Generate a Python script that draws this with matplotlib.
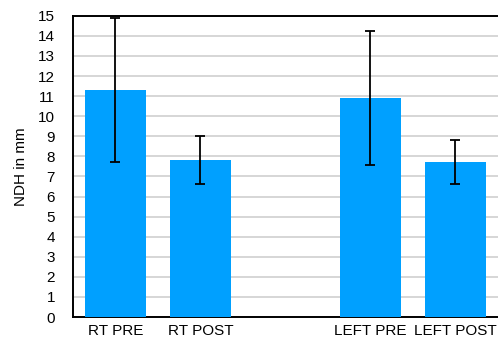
import numpy as np
import matplotlib.pyplot as plt

plt.rcParams['font.family'] = ['Liberation Sans', 'DejaVu Sans']

# data
positions = [0, 1, 3, 4]
bar_labels = ['RT PRE', 'RT POST', 'LEFT PRE', 'LEFT POST']
means = [11.3, 7.8, 10.9, 7.7]
errors = [3.58, 1.2, 3.35, 1.1]

fig = plt.figure(figsize=(4.98, 3.40), dpi=100)
ax = fig.add_axes([0.1466, 0.0676, 0.853, 0.886])

ax.bar(positions, means, width=0.72, color='#00a0ff', zorder=3)
ax.errorbar(positions, means, yerr=errors, fmt='none', ecolor='black',
            elinewidth=1.3, capsize=3.6, capthick=1.3, zorder=4)

ax.set_xlim(-0.5, 4.5)
ax.set_ylim(0, 15)
ax.set_yticks(np.arange(0, 16, 1))
ax.set_xticks(positions)
ax.set_xticklabels(bar_labels)
ax.tick_params(axis='both', length=0, labelsize=11)
ax.tick_params(axis='y', pad=13)
ax.tick_params(axis='x', pad=5)
ax.yaxis.grid(True, color='#d0d0d0', linewidth=1.2, zorder=0)
ax.set_axisbelow(True)
for s in ['left', 'bottom', 'top']:
    ax.spines[s].set_linewidth(1.4)
ax.spines['right'].set_visible(False)
ax.set_ylabel('NDH in mm', fontsize=11, labelpad=7)

fig.savefig('out.png', dpi=100)
